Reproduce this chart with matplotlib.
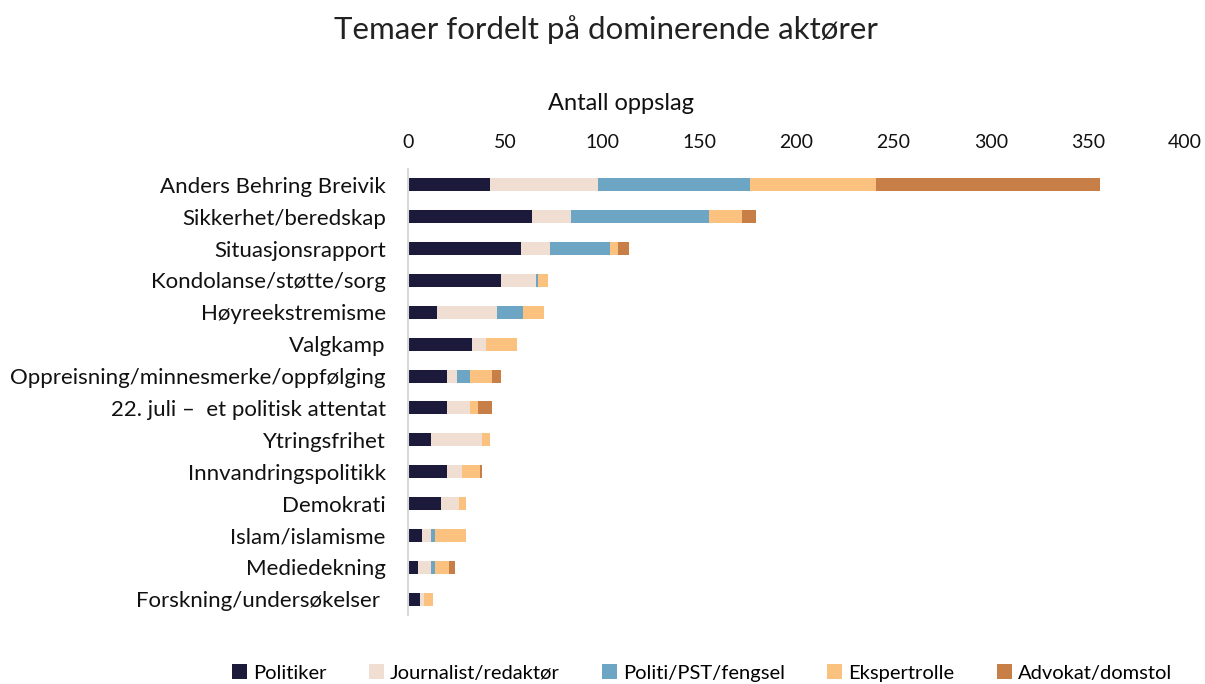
import matplotlib
matplotlib.use("Agg")
import matplotlib.pyplot as plt
import numpy as np

categories = [
    "Anders Behring Breivik",
    "Sikkerhet/beredskap",
    "Situasjonsrapport",
    "Kondolanse/støtte/sorg",
    "Høyreekstremisme",
    "Valgkamp",
    "Oppreisning/minnesmerke/oppfølging",
    "22. juli –  et politisk attentat",
    "Ytringsfrihet",
    "Innvandringspolitikk",
    "Demokrati",
    "Islam/islamisme",
    "Mediedekning",
    "Forskning/undersøkelser ",
]
series_names = ["Politiker", "Journalist/redaktør", "Politi/PST/fengsel", "Ekspertrolle", "Advokat/domstol"]
politiker = [42, 64, 58, 48, 15, 33, 20, 20, 12, 20, 17, 7, 5, 6]
journalist = [56, 20, 15, 18, 31, 7, 5, 12, 26, 8, 9, 5, 7, 2]
politi = [78, 71, 31, 1, 13, 0, 7, 0, 0, 0, 0, 2, 2, 0]
ekspert = [65, 17, 4, 5, 11, 16, 11, 4, 4, 9, 4, 16, 7, 5]
advokat = [115, 7, 6, 0, 0, 0, 5, 7, 0, 1, 0, 0, 3, 0]
xticks = [0, 50, 100, 150, 200, 250, 300, 350, 400]

colors = ["#1B1A3A", "#F1DED2", "#6DA5C4", "#FBC17E", "#C87E47"]

plt.rcParams['font.family'] = ['Lato', 'DejaVu Sans']

fig = plt.figure(figsize=(12.05, 6.84), dpi=100)
ax = fig.add_axes([408/1205, 1-615/684, 777/1205, 446/684])

y = np.arange(len(categories))
left = np.zeros(len(categories))
for name, vals, c in zip(series_names, [politiker, journalist, politi, ekspert, advokat], colors):
    v = np.array(vals, dtype=float)
    ax.barh(y, v, left=left, height=0.41, color=c, label=name, edgecolor='none')
    left += v

ax.set_xlim(0, 400)
ax.set_ylim(len(categories) - 0.5, -0.5)
ax.set_yticks(y)
ax.set_yticklabels(categories, fontsize=16, color="#111111")
ax.set_xticks(xticks)
ax.set_xticklabels([str(t) for t in xticks], fontsize=14, color="#111111")
ax.xaxis.tick_top()
ax.tick_params(axis='both', length=0)
ax.tick_params(axis='x', pad=13)
ax.tick_params(axis='y', pad=16)
for s in ['top', 'right', 'bottom']:
    ax.spines[s].set_visible(False)
ax.spines['left'].set_color('#D9D9D9')
ax.spines['left'].set_linewidth(1.5)

fig.text(621/1205, 1-103/684, "Antall oppslag", ha='center', va='center', fontsize=17, color="#111111")
fig.text(606/1205, 1-30/684, "Temaer fordelt på dominerende aktører", ha='center', va='center',
         fontsize=22.5, color="#222222")

handles, labels = ax.get_legend_handles_labels()
fig.legend(handles, labels, loc='center', bbox_to_anchor=(702/1205, 1-673/684), ncol=5, frameon=False,
           fontsize=14.5, handlelength=0.75, handleheight=0.75, handletextpad=0.3, columnspacing=2.1)

fig.savefig("out.png", dpi=100)
